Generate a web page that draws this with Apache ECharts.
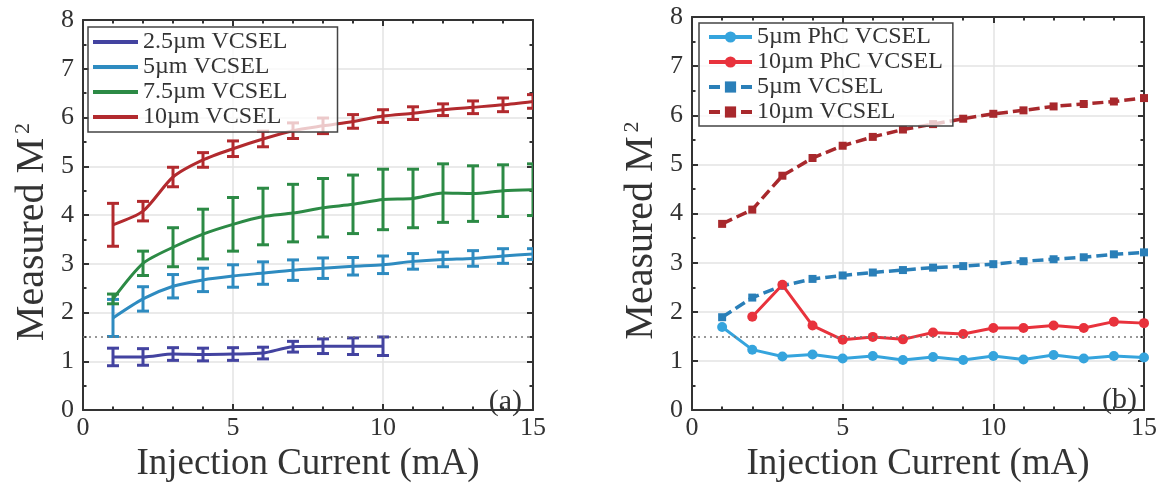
<!DOCTYPE html>
<html>
<head>
<meta charset="utf-8">
<script src="https://cdn.jsdelivr.net/npm/echarts@6/dist/echarts.min.js"></script>
<style>
  html, body { margin: 0; padding: 0; background: #fff; }
  #chart { width: 1163px; height: 488px; }
</style>
</head>
<body>
<div id="chart"></div>
<script>
// injection current (mA)
const currents = [1, 2, 3, 4, 5, 6, 7, 8, 9, 10, 11, 12, 13, 14, 15];
const currentsPhc10 = [2, 3, 4, 5, 6, 7, 8, 9, 10, 11, 12, 13, 14, 15];
const currents25 = [1, 2, 3, 4, 5, 6, 7, 8, 9, 10];

// (a) mean M^2 and error half-widths
const mean25 = [1.09, 1.09, 1.15, 1.14, 1.15, 1.17, 1.30, 1.31, 1.31, 1.31];
const err25 = [0.18, 0.17, 0.13, 0.13, 0.13, 0.12, 0.11, 0.15, 0.17, 0.19];
const mean5 = [1.89, 2.28, 2.54, 2.67, 2.75, 2.81, 2.87, 2.91, 2.95, 2.98, 3.05, 3.09, 3.11, 3.16, 3.20];
const err5 = [0.38, 0.25, 0.24, 0.24, 0.23, 0.23, 0.21, 0.21, 0.18, 0.18, 0.16, 0.15, 0.16, 0.15, 0.11];
const mean75 = [2.28, 3.01, 3.34, 3.61, 3.81, 3.97, 4.04, 4.15, 4.22, 4.32, 4.34, 4.45, 4.44, 4.50, 4.52];
const err75 = [0.10, 0.25, 0.40, 0.51, 0.55, 0.58, 0.59, 0.60, 0.60, 0.62, 0.60, 0.60, 0.57, 0.53, 0.53];
const mean10 = [3.80, 4.08, 4.78, 5.13, 5.36, 5.56, 5.73, 5.83, 5.92, 6.03, 6.09, 6.16, 6.21, 6.26, 6.33];
const err10 = [0.44, 0.20, 0.20, 0.15, 0.16, 0.16, 0.16, 0.16, 0.14, 0.13, 0.13, 0.12, 0.13, 0.14, 0.14];

// (b)
const phc5 = [1.69, 1.23, 1.09, 1.13, 1.05, 1.10, 1.02, 1.08, 1.02, 1.10, 1.03, 1.12, 1.05, 1.10, 1.07];
const phc10 = [1.90, 2.55, 1.72, 1.43, 1.49, 1.44, 1.58, 1.55, 1.67, 1.67, 1.72, 1.67, 1.80, 1.77];
const vcsel5 = [1.89, 2.29, 2.53, 2.67, 2.74, 2.80, 2.85, 2.90, 2.93, 2.97, 3.03, 3.07, 3.11, 3.17, 3.21];
const vcsel10 = [3.79, 4.08, 4.77, 5.13, 5.38, 5.56, 5.71, 5.82, 5.93, 6.03, 6.10, 6.18, 6.23, 6.28, 6.35];

const threshold = 1.5;

const namesA = ['2.5µm VCSEL', '5µm VCSEL', '7.5µm VCSEL', '10µm VCSEL'];
// trailing space keeps the (b) names apart from the (a) ones
const namesB = ['5µm PhC VCSEL', '10µm PhC VCSEL', '5µm VCSEL ', '10µm VCSEL '];

const font = 'Liberation Serif';
const ink = '#333';

const chart = echarts.init(document.getElementById('chart'));

function pairs(xs, ys) {
  return xs.map((x, i) => [x, ys[i]]);
}
function bars(xs, ys, es) {
  return xs.map((x, i) => [x, ys[i] - es[i], ys[i] + es[i]]);
}

function errRender(params, api) {
  const top = api.coord([api.value(0), api.value(2)]);
  const bot = api.coord([api.value(0), api.value(1)]);
  const w = 6;
  const style = { stroke: api.visual('color'), lineWidth: 3 };
  return {
    type: 'group',
    children: [
      { type: 'line', shape: { x1: top[0], y1: top[1], x2: bot[0], y2: bot[1] }, style },
      { type: 'line', shape: { x1: top[0] - w, y1: top[1], x2: top[0] + w, y2: top[1] }, style },
      { type: 'line', shape: { x1: bot[0] - w, y1: bot[1], x2: bot[0] + w, y2: bot[1] }, style },
    ],
  };
}

function xAxis(gridIndex, position) {
  const main = position === 'bottom';
  return {
    type: 'value', gridIndex, position, min: 0, max: 15, interval: 5,
    name: main ? 'Injection Current (mA)' : '',
    nameLocation: 'middle', nameGap: 28,
    nameTextStyle: { fontFamily: font, fontSize: 37, color: ink },
    axisLine: { show: true, onZero: false, lineStyle: { color: ink, width: 2 } },
    axisTick: { show: true, inside: true, length: 6, lineStyle: { color: ink, width: 2 } },
    minorTick: { show: true, splitNumber: 5, length: 3.5, lineStyle: { color: ink, width: 2 } },
    axisLabel: { show: main, margin: 5, fontFamily: font, fontSize: 26, color: ink },
    splitLine: { show: main, lineStyle: { color: '#e3e3e3', width: 1.5 } },
  };
}

function yAxis(gridIndex, position) {
  const main = position === 'left';
  return {
    type: 'value', gridIndex, position, min: 0, max: 8, interval: 1,
    name: main ? '{m|Measured M}{s|2}' : '',
    nameLocation: 'middle', nameGap: 31,
    nameTextStyle: {
      color: ink, padding: [0, 34, 0, 0],
      rich: {
        m: { fontFamily: font, fontSize: 40, color: ink },
        s: { fontFamily: font, fontSize: 22, color: ink, verticalAlign: 'top', padding: [0, 0, 0, 4] },
      },
    },
    axisLine: { show: true, onZero: false, lineStyle: { color: ink, width: 2 } },
    axisTick: { show: true, inside: true, length: 6, lineStyle: { color: ink, width: 2 } },
    minorTick: { show: true, splitNumber: 2, length: 3.5, lineStyle: { color: ink, width: 2 } },
    axisLabel: { show: main, margin: 9, fontFamily: font, fontSize: 26, color: ink },
    splitLine: { show: main, lineStyle: { color: '#e3e3e3', width: 1.5 } },
  };
}

const colA = ['#4343a0', '#2e8bc0', '#2c8a45', '#b22a2e'];
const colB = ['#35a4dd', '#e8323c', '#2a7fb8', '#a8282c'];

const meansA = [mean25, mean5, mean75, mean10];
const errsA = [err25, err5, err75, err10];
const xsA = [currents25, currents, currents, currents];

const series = [];
// (a) error bars, then smooth lines
meansA.forEach((m, i) => {
  series.push({
    type: 'custom', xAxisIndex: 0, yAxisIndex: 0, clip: true, z: 3,
    itemStyle: { color: colA[i] },
    encode: { x: 0, y: [1, 2] },
    renderItem: errRender,
    data: bars(xsA[i], m, errsA[i]),
  });
  series.push({
    type: 'line', name: namesA[i], xAxisIndex: 0, yAxisIndex: 0, z: 3,
    symbol: 'none', smooth: 0.25,
    lineStyle: { color: colA[i], width: 3 },
    itemStyle: { color: colA[i] },
    data: pairs(xsA[i], m),
    markLine: i === 0 ? {
      silent: true, symbol: 'none', label: { show: false },
      lineStyle: { color: '#777', type: [2, 4], width: 1.5 },
      data: [{ yAxis: threshold }],
    } : undefined,
  });
});

// (b)
series.push({
  type: 'line', name: namesB[3], xAxisIndex: 2, yAxisIndex: 2, z: 3,
  symbol: 'rect', symbolSize: 8,
  lineStyle: { color: colB[3], width: 3.5, type: [11, 5] },
  itemStyle: { color: colB[3] },
  data: pairs(currents, vcsel10),
  markLine: {
    silent: true, symbol: 'none', label: { show: false },
    lineStyle: { color: '#777', type: [2, 4], width: 1.5 },
    data: [{ yAxis: threshold }],
  },
});
series.push({
  type: 'line', name: namesB[2], xAxisIndex: 2, yAxisIndex: 2, z: 3,
  symbol: 'rect', symbolSize: 8,
  lineStyle: { color: colB[2], width: 3.5, type: [11, 5] },
  itemStyle: { color: colB[2] },
  data: pairs(currents, vcsel5),
});
series.push({
  type: 'line', name: namesB[0], xAxisIndex: 2, yAxisIndex: 2, z: 4,
  symbol: 'circle', symbolSize: 10,
  lineStyle: { color: colB[0], width: 3 },
  itemStyle: { color: colB[0] },
  data: pairs(currents, phc5),
});
series.push({
  type: 'line', name: namesB[1], xAxisIndex: 2, yAxisIndex: 2, z: 4,
  symbol: 'circle', symbolSize: 10,
  lineStyle: { color: colB[1], width: 3 },
  itemStyle: { color: colB[1] },
  data: pairs(currentsPhc10, phc10),
});

const legendBase = {
  orient: 'vertical', z: 10,
  backgroundColor: 'rgba(255,255,255,0.75)',
  borderColor: '#444', borderWidth: 1.5,
  itemGap: 1,
  lineStyle: { width: 4 },
  textStyle: { fontFamily: font, fontSize: 24, color: ink },
  selectedMode: false,
};

chart.setOption({
  animation: false,
  backgroundColor: '#fff',
  grid: [
    { left: 83, top: 20, width: 450, height: 402 },
    { left: 692, top: 17, width: 452, height: 405 },
  ],
  xAxis: [xAxis(0, 'bottom'), xAxis(0, 'top'), xAxis(1, 'bottom'), xAxis(1, 'top')],
  yAxis: [yAxis(0, 'left'), yAxis(0, 'right'), yAxis(1, 'left'), yAxis(1, 'right')],
  legend: [
    Object.assign({}, legendBase, {
      left: 88, top: 27, itemWidth: 45, itemHeight: 4, icon: 'rect',
      padding: [3, 50, 3, 5], data: namesA,
    }),
    Object.assign({}, legendBase, {
      left: 699, top: 23, itemWidth: 43, itemHeight: 14,
      padding: [2, 10, 2, 8], data: namesB,
    }),
  ],
  graphic: [
    { type: 'text', right: 641, top: 387, z: 10,
      style: { text: '(a)', font: '30px "Liberation Serif"', fill: ink } },
    { type: 'text', right: 26, top: 385, z: 10,
      style: { text: '(b)', font: '30px "Liberation Serif"', fill: ink } },
  ],
  series,
});
</script>
</body>
</html>
